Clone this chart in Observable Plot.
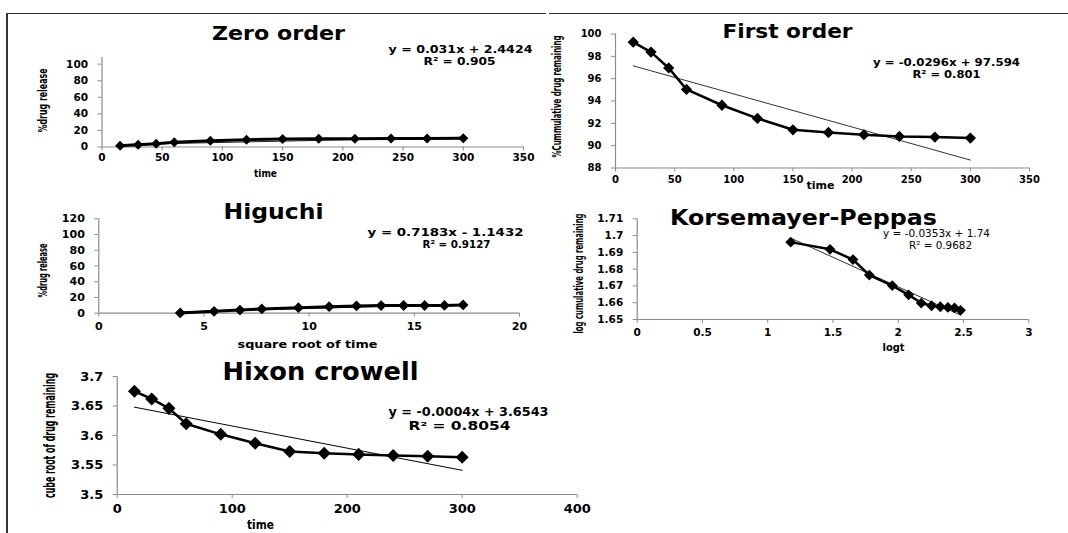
<!DOCTYPE html>
<html><head><meta charset="utf-8">
<script src="https://cdn.jsdelivr.net/npm/d3@7"></script>
<script src="https://cdn.jsdelivr.net/npm/@observablehq/plot@0.6"></script>
<style>
body{margin:0;background:#fff;}
#root{position:relative;width:1068px;height:533px;overflow:hidden;background:#fff;}
.bl{position:absolute;left:6px;top:13px;width:1.5px;height:520px;background:#333;}
.bt1{position:absolute;left:6px;top:13px;width:540px;height:1.3px;background:#333;}
.bt2{position:absolute;left:549px;top:13px;width:519px;height:1.3px;background:#333;}
</style></head><body>
<div id="root"><div class="bl"></div><div class="bt1"></div><div class="bt2"></div></div>
<script>
// ---- data ----
const time = [15, 30, 45, 60, 90, 120, 150, 180, 210, 240, 270, 300];
const sqrtTime = [3.87, 5.48, 6.71, 7.75, 9.49, 10.95, 12.25, 13.42, 14.49, 15.49, 16.43, 17.32];
const logTime = [1.176, 1.477, 1.653, 1.778, 1.954, 2.079, 2.176, 2.255, 2.322, 2.380, 2.431, 2.477];

const zeroRelease = [1.5, 2.6, 3.9, 5.8, 7.6, 8.8, 9.6, 9.9, 10.0, 10.2, 10.3, 10.5];
const firstRemaining = [99.27, 98.38, 96.96, 95.04, 93.62, 92.44, 91.42, 91.18, 90.98, 90.83, 90.77, 90.68];
const higuchiRelease = [0.3, 2.4, 4.0, 5.4, 7.0, 8.3, 9.2, 9.7, 9.8, 9.8, 9.9, 10.5];
const logRemaining = [1.6961, 1.6918, 1.6857, 1.6765, 1.6702, 1.6647, 1.6598, 1.6582, 1.6576, 1.6572, 1.6569, 1.6555];
const cubeRootRemaining = [3.675, 3.662, 3.646, 3.620, 3.602, 3.587, 3.573, 3.570, 3.568, 3.566, 3.565, 3.563];

const zeroTrendX = [15, 300], zeroTrendY = [2.9, 11.7];
const firstTrendX = [15, 300], firstTrendY = [97.15, 88.71];
const higuchiTrendX = [3.87, 17.32], higuchiTrendY = [1.6, 11.3];
const korsTrendX = [1.176, 2.477], korsTrendY = [1.6985, 1.6526];
const hixTrendX = [15, 300], hixTrendY = [3.648, 3.541];

const timeTicks = [0, 50, 100, 150, 200, 250, 300, 350];
const zeroYTicks = [0, 20, 40, 60, 80, 100];
const firstYTicks = [88, 90, 92, 94, 96, 98, 100];
const sqrtTicks = [0, 5, 10, 15, 20];
const higuchiYTicks = [0, 20, 40, 60, 80, 100, 120];
const logTTicks = [0, 0.5, 1, 1.5, 2, 2.5, 3];
const korsYTicks = [1.65, 1.66, 1.67, 1.68, 1.69, 1.70, 1.71];
const hixXTicks = [0, 100, 200, 300, 400];
const hixYTicks = [3.5, 3.55, 3.6, 3.65, 3.7];

const titles = ["Zero order", "First order", "Higuchi", "Korsemayer-Peppas", "Hixon crowell"];
const equations = ["y = 0.031x + 2.4424", "y = -0.0296x + 97.594", "y = 0.7183x - 1.1432", "y = -0.0353x + 1.74", "y = -0.0004x + 3.6543"];
const rSquared = ["R² = 0.905", "R² = 0.801", "R² = 0.9127", "R² = 0.9682", "R² = 0.8054"];
const xLabels = ["time", "time", "square root of time", "logt", "time"];
const yLabels = ["%drug release", "%Cummulative drug remaining", "%drug release", "log cumulative drug remaining", "cube root of drug remaining"];

// ---- builder ----
const root = document.getElementById("root");
const fmt = d => String(+(+d).toFixed(4));
const AXC = "#8c8c8c";

function makePanel(c) {
  const pts = c.xs.map((x, i) => ({x, y: c.ys[i]}));
  const tr = c.tx.map((x, i) => ({x, y: c.ty[i]}));
  const anns = c.anns;
  const marks = [
    Plot.ruleX([c.xDomain[0]], {stroke: AXC, strokeWidth: 1.2}),
    Plot.ruleY([c.yDomain[0]], {stroke: AXC, strokeWidth: 1.2}),
    Plot.axisX(c.xTicks, {tickSize: 4, tickPadding: c.xPad, tickFormat: fmt, label: null, stroke: AXC, fill: "black",
      fontSize: c.tickSize, fontWeight: "bold", fontFamily: "DejaVu Sans"}),
    Plot.axisY(c.yTicks, {tickSize: 4, tickPadding: 10, tickFormat: fmt, label: null, stroke: AXC, fill: "black",
      fontSize: c.tickSize, fontWeight: "bold", fontFamily: "DejaVu Sans"}),
    Plot.line(tr, {x: "x", y: "y", stroke: c.trendColor, strokeWidth: 1}),
    Plot.line(pts, {x: "x", y: "y", stroke: "black", strokeWidth: c.lineW}),
    Plot.dot(pts, {x: "x", y: "y", symbol: "square", rotate: 45, r: c.dotR, fill: "black"}),
    ...anns.map(a => Plot.text([a.t], {
      frameAnchor: "top-left", dx: a.x - c.fx0, dy: a.y - c.fy0, text: d => d,
      textAnchor: "middle", lineAnchor: "middle", fill: "black",
      fontSize: a.s, fontWeight: a.w ?? "bold", fontFamily: a.f ?? "DejaVu Sans", rotate: a.r ?? 0
    }))
  ];
  const svg = Plot.plot({
    width: c.width, height: c.height,
    marginLeft: c.fx0 - c.left, marginRight: c.left + c.width - c.fx1,
    marginTop: c.fy0 - c.top, marginBottom: c.top + c.height - c.fy1,
    x: {domain: c.xDomain}, y: {domain: c.yDomain},
    style: {background: "transparent", overflow: "visible", color: "black"},
    marks
  });
  d3.select(svg).selectAll("text").each(function () {
    const a = anns.find(a => a.t === this.textContent);
    if (a && a.len) {
      this.setAttribute("textLength", a.len);
      this.setAttribute("lengthAdjust", "spacingAndGlyphs");
    }
  });
  svg.style.position = "absolute";
  svg.style.left = c.left + "px";
  svg.style.top = c.top + "px";
  root.appendChild(svg);
}

const condensed = "DejaVu Sans Condensed, DejaVu Sans";

// Zero order
makePanel({
  left: 0, top: 0, width: 540, height: 185, fx0: 101.5, fx1: 523, fy0: 57, fy1: 146.5,
  xDomain: [0, 350], yDomain: [0, 108], xTicks: timeTicks, yTicks: zeroYTicks, xPad: 3, tickSize: 10.5,
  xs: time, ys: zeroRelease, tx: zeroTrendX, ty: zeroTrendY, trendColor: "#222", lineW: 3, dotR: 4,
  anns: [
    {t: titles[0], x: 278, y: 33.5, s: 19, len: 133},
    {t: equations[0], x: 460, y: 49, s: 10.5, len: 144},
    {t: rSquared[0], x: 459, y: 61, s: 10.5, len: 72},
    {t: xLabels[0], x: 265, y: 173, s: 11, len: 23},
    {t: yLabels[0], x: 42, y: 100, s: 13, r: -90, f: condensed, len: 64}
  ]
});

// First order
makePanel({
  left: 530, top: 0, width: 538, height: 195, fx0: 615, fx1: 1029, fy0: 33.5, fy1: 167.5,
  xDomain: [0, 350], yDomain: [88, 100], xTicks: timeTicks, yTicks: firstYTicks, xPad: 4, tickSize: 10,
  xs: time, ys: firstRemaining, tx: firstTrendX, ty: firstTrendY, trendColor: "#333", lineW: 2.5, dotR: 4.5,
  anns: [
    {t: titles[1], x: 787, y: 31, s: 19, len: 130},
    {t: equations[1], x: 946, y: 62, s: 10, len: 147},
    {t: rSquared[1], x: 946, y: 74, s: 10, len: 68},
    {t: xLabels[1], x: 820, y: 185, s: 10, len: 28},
    {t: yLabels[1], x: 557, y: 96, s: 12, r: -90, f: condensed, len: 122}
  ]
});

// Higuchi
makePanel({
  left: 0, top: 185, width: 540, height: 175, fx0: 98.3, fx1: 519, fy0: 218.3, fy1: 312.7,
  xDomain: [0, 20], yDomain: [0, 120], xTicks: sqrtTicks, yTicks: higuchiYTicks, xPad: 5, tickSize: 11,
  xs: sqrtTime, ys: higuchiRelease, tx: higuchiTrendX, ty: higuchiTrendY, trendColor: "#222", lineW: 3, dotR: 4.3,
  anns: [
    {t: titles[2], x: 273, y: 212, s: 21, len: 100},
    {t: equations[2], x: 445, y: 232, s: 10.5, len: 156},
    {t: rSquared[2], x: 456, y: 244, s: 10.5, len: 68},
    {t: xLabels[2], x: 307, y: 344, s: 11, len: 140},
    {t: yLabels[2], x: 42, y: 270, s: 12.5, r: -90, f: condensed, len: 54}
  ]
});

// Korsmeyer-Peppas
makePanel({
  left: 530, top: 195, width: 538, height: 165, fx0: 636.7, fx1: 1028.3, fy0: 218.3, fy1: 319,
  xDomain: [0, 3], yDomain: [1.65, 1.71], xTicks: logTTicks, yTicks: korsYTicks, xPad: 5, tickSize: 10.5,
  xs: logTime, ys: logRemaining, tx: korsTrendX, ty: korsTrendY, trendColor: "#333", lineW: 2.5, dotR: 4.3,
  anns: [
    {t: titles[3], x: 803, y: 217.5, s: 21, len: 267},
    {t: equations[3], x: 936, y: 233, s: 10, w: "normal", len: 107},
    {t: rSquared[3], x: 940, y: 245, s: 10, w: "normal", len: 63},
    {t: xLabels[3], x: 893, y: 347, s: 10, len: 22},
    {t: yLabels[3], x: 578, y: 273, s: 13, r: -90, f: condensed, len: 120}
  ]
});

// Hixson-Crowell
makePanel({
  left: 0, top: 360, width: 600, height: 173, fx0: 116.7, fx1: 576.7, fy0: 376, fy1: 494,
  xDomain: [0, 400], yDomain: [3.5, 3.7], xTicks: hixXTicks, yTicks: hixYTicks, xPad: 5, tickSize: 13,
  xs: time, ys: cubeRootRemaining, tx: hixTrendX, ty: hixTrendY, trendColor: "black", lineW: 2.5, dotR: 5.2,
  anns: [
    {t: titles[4], x: 320, y: 371, s: 25, len: 196},
    {t: equations[4], x: 468, y: 412, s: 11.5, len: 160},
    {t: rSquared[4], x: 459, y: 426, s: 11.5, len: 102},
    {t: xLabels[4], x: 260, y: 524, s: 13, len: 27},
    {t: yLabels[4], x: 50, y: 435, s: 15, r: -90, f: condensed, len: 125}
  ]
});
</script>
</body></html>
